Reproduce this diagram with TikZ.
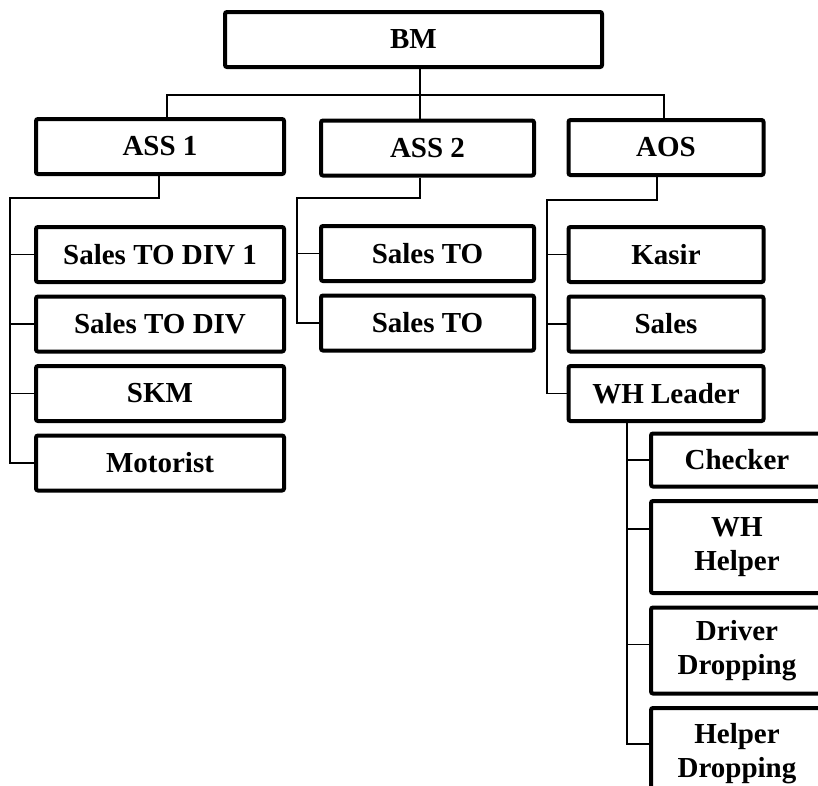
\documentclass[tikz,border=0pt]{standalone}
\usepackage{fontspec}
\setmainfont{Liberation Serif}
\usepackage{tikz}
\usetikzlibrary{positioning}
\tikzset{
  orgbox/.style={
    rectangle,
    rounded corners=2pt,
    draw=black,
    line width=4pt,
    align=center,
    minimum height=55pt,
    inner sep=2pt,
    font=\fontsize{29}{34}\selectfont\bfseries
  },
  orglink/.style={
    line width=1.2pt,
    draw=black
  }
}

\begin{document}
\begin{tikzpicture}[x=1pt, y=-1pt, node distance=10.5pt]
\useasboundingbox (0,0) rectangle (818,785);
\clip (0,0) rectangle (818,785);

% top levels
\node[orgbox, minimum width=377pt] (bm) at (413.5,39.5) {BM};
\node[orgbox, minimum width=248pt] (ass1) at (160,146.5) {ASS 1};
\node[orgbox, minimum width=213pt] (ass2) at (427.5,148) {ASS 2};
\node[orgbox, minimum width=195pt] (aos) at (666,147.5) {AOS};

% under ASS 1
\node[orgbox, minimum width=248pt, below=49pt of ass1] (salesdiv1) {Sales TO DIV 1};
\node[orgbox, minimum width=248pt, below=of salesdiv1] (salesdiv) {Sales TO DIV};
\node[orgbox, minimum width=248pt, below=of salesdiv] (skm) {SKM};
\node[orgbox, minimum width=248pt, below=of skm] (motorist) {Motorist};

% under ASS 2
\node[orgbox, minimum width=213pt, below=46.5pt of ass2] (salesto1) {Sales TO};
\node[orgbox, minimum width=213pt, below=of salesto1] (salesto2) {Sales TO};

% under AOS
\node[orgbox, minimum width=195pt, below=48pt of aos] (kasir) {Kasir};
\node[orgbox, minimum width=195pt, below=of kasir] (sales) {Sales};
\node[orgbox, minimum width=195pt, below=of sales] (whleader) {WH Leader};

% under WH Leader
\node[orgbox, minimum width=172pt, minimum height=53pt] (checker) at (737,460) {Checker};
\node[orgbox, minimum width=172pt, minimum height=92pt, below=of checker] (whhelper) {WH\\Helper};
\node[orgbox, minimum width=172pt, minimum height=86pt, below=of whhelper] (driverdrop) {Driver\\Dropping};
\node[orgbox, minimum width=172pt, minimum height=92pt, below=of driverdrop] (helperdrop) {Helper\\Dropping};

% links
\coordinate (topbus) at (420,95);
\draw[orglink] ([xshift=6.5pt]bm.south) -- ([xshift=-7.5pt]ass2.north);
\draw[orglink] ([xshift=7pt]ass1.north) |- (topbus) -| ([xshift=-2pt]aos.north);

\coordinate (ass1bus) at (10,198);
\draw[orglink] ([xshift=-1pt]ass1.south) |- (ass1bus) |- (motorist.west);
\draw[orglink] (ass1bus) |- (salesdiv1.west);
\draw[orglink] (ass1bus) |- (salesdiv.west);
\draw[orglink] (ass1bus) |- (skm.west);

\coordinate (ass2bus) at (297,198);
\draw[orglink] ([xshift=-7.5pt]ass2.south) |- (ass2bus) |- (salesto2.west);
\draw[orglink] (ass2bus) |- (salesto1.west);

\coordinate (aosbus) at (547,200);
\draw[orglink] ([xshift=-9pt]aos.south) |- (aosbus) |- (whleader.west);
\draw[orglink] (aosbus) |- (kasir.west);
\draw[orglink] (aosbus) |- (sales.west);

\coordinate (whbus) at ([xshift=-39pt]whleader.south);
\draw[orglink] (whbus) |- ([yshift=10pt]helperdrop.west);
\draw[orglink] (whbus) |- (checker.west);
\draw[orglink] (whbus) |- ([yshift=18pt]whhelper.west);
\draw[orglink] (whbus) |- ([yshift=6pt]driverdrop.west);
\end{tikzpicture}
\end{document}
